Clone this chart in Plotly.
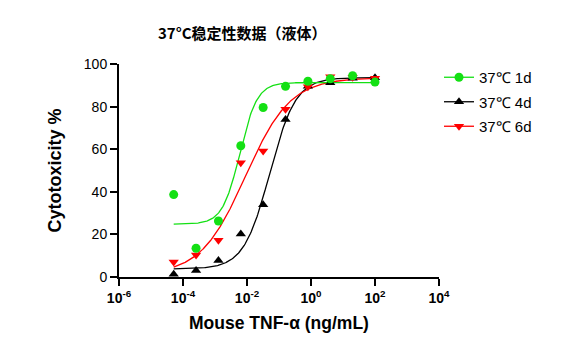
import numpy as np
import plotly.graph_objects as go

# concentrations (ng/mL), 5-fold dilution series
conc = [5.12e-5, 2.56e-4, 1.28e-3, 6.4e-3, 0.032, 0.16, 0.8, 4, 20, 100]
names = ["37℃ 1d", "37℃ 4d", "37℃ 6d"]
y_1d = [38.7, 13.5, 26.3, 61.6, 79.6, 89.5, 91.9, 93.1, 94.5, 91.5]
y_4d = [1.3, 3.1, 7.8, 20.2, 33.9, 74.0, 89.5, 91.2, 93.3, 93.5]
y_6d = [7.1, 10.3, 17.3, 53.6, 59.1, 78.7, 89.3, 94.0, 93.8, 93.3]
# 4PL fit parameters: bottom, top, logEC50, hill
fit_1d = (24.8, 91.3, -2.225, 1.6)
fit_4d = (3.8, 93.6, -1.29, 1.07)
fit_6d = (1.0, 93.5, -2.05, 0.62)
colors = ["#14e014", "#000000", "#ff0000"]
symbols = ["circle", "triangle-up", "triangle-down"]
x_tickvals = [1e-6, 1e-4, 1e-2, 1e0, 1e2, 1e4]
x_ticktext = ["10<sup>-6</sup>", "10<sup>-4</sup>", "10<sup>-2</sup>",
              "10<sup>0</sup>", "10<sup>2</sup>", "10<sup>4</sup>"]
y_tickvals = [0, 20, 40, 60, 80, 100]

FONT = "Liberation Sans, Arial, sans-serif"
# page has an 8px body margin; plot area in page coords: x 119..439, y 64..277
L, T, PW, PH = 111, 56, 320, 213


def four_pl(x, p):
    b, t, ec, h = p
    return b + (t - b) / (1 + 10 ** (h * (ec - np.log10(x))))


fig = go.Figure()
xc = np.logspace(np.log10(conc[0]), np.log10(conc[-1]), 300)
series = [(y_1d, fit_1d), (y_4d, fit_4d), (y_6d, fit_6d)]
for i in [1, 2, 0]:
    ys, p = series[i]
    fig.add_trace(go.Scatter(x=xc, y=four_pl(xc, p), mode="lines",
                             line=dict(color=colors[i], width=1.3),
                             showlegend=False, legendgroup=str(i),
                             hoverinfo="skip"))
for i in [1, 2, 0]:
    ys, p = series[i]
    # interleave None so no connecting line is drawn, while legend shows line+marker
    xs, yv = [], []
    for a, b in zip(conc, ys):
        xs += [a, None]
        yv += [b, None]
    fig.add_trace(go.Scatter(x=xs, y=yv, mode="lines+markers", name=names[i],
                             line=dict(color=colors[i], width=1.3),
                             marker=dict(symbol=symbols[i], size=9, color=colors[i],
                                         line=dict(width=0)),
                             connectgaps=False, legendgroup=str(i),
                             legendrank=i + 1, cliponaxis=False))

fig.update_layout(
    width=578, height=356,
    margin=dict(l=L, r=578 - L - PW, t=T, b=356 - T - PH, autoexpand=False),
    paper_bgcolor="white", plot_bgcolor="white",
    font=dict(family=FONT, color="#000"),
    showlegend=True,
    legend=dict(x=(439 - 8 - L) / PW, xanchor="left", y=1 + (T - 61 + 8) / PH, yanchor="top",
                font=dict(size=15, family=FONT),
                traceorder="grouped", tracegroupgap=2, itemwidth=30,
                bgcolor="rgba(0,0,0,0)"),
    annotations=[dict(text="<b>37°C稳定性数据（液体）</b>", xref="paper", yref="paper",
                      x=(242 - 8 - L) / PW, y=1 + (T - 33 + 8) / PH, xanchor="center",
                      yanchor="middle", showarrow=False,
                      font=dict(size=15, family="Noto Sans CJK SC"))],
)
fig.update_xaxes(type="log", range=[-6, 4], tickvals=x_tickvals,
                 ticktext=["<b>" + t + "</b>" for t in x_ticktext],
                 showgrid=False, zeroline=False, showline=True, linecolor="#000",
                 linewidth=2, ticks="outside", ticklen=7, tickwidth=2, tickcolor="#000",
                 tickfont=dict(size=14, family=FONT),
                 title=dict(text="<b>Mouse TNF-α (ng/mL)</b>", font=dict(size=17.5), standoff=12))
fig.update_yaxes(range=[0, 100], tickvals=y_tickvals, showgrid=False, zeroline=False,
                 showline=True, linecolor="#000", linewidth=2, ticks="outside",
                 ticklen=7, tickwidth=2, tickcolor="#000",
                 tickfont=dict(size=14, family=FONT),
                 tickprefix="<b>", ticksuffix="</b>",
                 title=dict(text="<b>Cytotoxicity %</b>", font=dict(size=18), standoff=18))
fig.write_html("out.html")
